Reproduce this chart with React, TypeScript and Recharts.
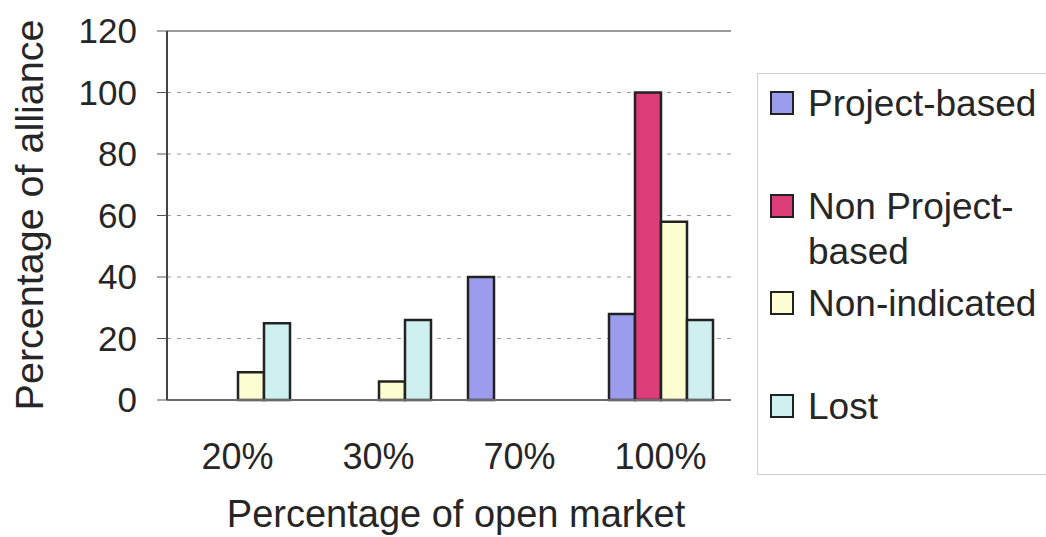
import React from 'react';
import {
  BarChart,
  Bar,
  CartesianGrid,
  XAxis,
  YAxis,
  ReferenceLine,
  Label,
} from 'recharts';

const categories = ['20%', '30%', '70%', '100%'];
const projectBased = [null, null, 40, 28];
const nonProjectBased = [null, null, null, 100];
const nonIndicated = [9, 6, null, 58];
const lost = [25, 26, null, 26];
const yTicks = [0, 20, 40, 60, 80, 100, 120];

const seriesKeys = ['projectBased', 'nonProjectBased', 'nonIndicated', 'lost'];
const seriesNames = ['Project-based', 'Non Project-\nbased', 'Non-indicated', 'Lost'];
const seriesColors = ['#9b9cec', '#dc3c78', '#fdfdd2', '#cff0f0'];

const data = categories.map((c, i) => ({
  category: c,
  projectBased: projectBased[i],
  nonProjectBased: nonProjectBased[i],
  nonIndicated: nonIndicated[i],
  lost: lost[i],
}));

const FONT = '"Liberation Sans", Arial, sans-serif';
const TEXT = '#262626';

// legend rows: top of each row inside the box
const legendRowTops = [7, 110, 207, 310];

const LegendBox: React.FC = () => (
  <div
    style={{
      position: 'absolute',
      left: 757,
      top: 73,
      width: 300,
      height: 402,
      border: '1px solid #cfcfcf',
      boxSizing: 'border-box',
      background: '#fff',
      fontFamily: FONT,
      fontSize: 37,
      color: TEXT,
    }}
  >
    {seriesNames.map((name, i) => (
      <div
        key={name}
        style={{ position: 'absolute', left: 12, top: legendRowTops[i], display: 'flex' }}
      >
        <div
          style={{
            width: 24,
            height: 24,
            marginTop: 10,
            background: seriesColors[i],
            border: '2.5px solid #222',
            boxSizing: 'border-box',
            flex: 'none',
          }}
        />
        <div style={{ marginLeft: 14, lineHeight: '45px', whiteSpace: 'pre' }}>{name}</div>
      </div>
    ))}
  </div>
);

export default function App() {
  return (
    <div style={{ position: 'absolute', left: 0, top: 0, width: 1046, height: 537, background: '#fff' }}>
      <BarChart
        width={1046}
        height={537}
        data={data}
        margin={{ top: 31, right: 315, bottom: 0, left: 0 }}
        barGap={0}
        barSize={26}
        style={{ fontFamily: FONT }}
      >
        <CartesianGrid vertical={false} stroke="#9a9a9a" strokeDasharray="4 6" />
        <XAxis
          xAxisId="edges"
          type="number"
          domain={[0, 4]}
          ticks={[0, 1, 2, 3, 4]}
          tickFormatter={() => ''}
          axisLine={false}
          tickSize={10}
          height={0}
          stroke="#777"
        />
        <XAxis
          dataKey="category"
          height={137}
          tickLine={false}
          tickSize={0}
          tickMargin={43}
          axisLine={{ stroke: '#6a6a6a', strokeWidth: 2 }}
          tick={{ fontSize: 36, fill: TEXT, fontFamily: FONT }}
        >
          <Label
            content={() => (
              <text x={456} y={527} textAnchor="middle" fontSize={38} fill={TEXT} fontFamily={FONT}>
                Percentage of open market
              </text>
            )}
          />
        </XAxis>
        <YAxis
          width={167}
          domain={[0, 120]}
          ticks={yTicks}
          tickSize={10}
          tickMargin={20}
          stroke="#555"
          axisLine={{ stroke: '#444', strokeWidth: 2 }}
          tick={{ fontSize: 35, fill: TEXT, fontFamily: FONT }}
        >
          <Label
            content={() => (
              <text
                x={43}
                y={215}
                transform="rotate(-90 43 215)"
                textAnchor="middle"
                fontSize={39.5}
                fill={TEXT}
                fontFamily={FONT}
              >
                Percentage of alliance
              </text>
            )}
          />
        </YAxis>
        <YAxis
          yAxisId="right"
          orientation="right"
          width={0}
          tick={false}
          tickLine={false}
          axisLine={{ stroke: '#9a9a9a', strokeWidth: 2 }}
        />
        <ReferenceLine y={120} stroke="#9a9a9a" strokeWidth={2} />
        {seriesKeys.map((key, i) => (
          <Bar
            key={key}
            dataKey={key}
            fill={seriesColors[i]}
            stroke="#222"
            strokeWidth={2.5}
            isAnimationActive={false}
          />
        ))}
      </BarChart>
      <LegendBox />
    </div>
  );
}
